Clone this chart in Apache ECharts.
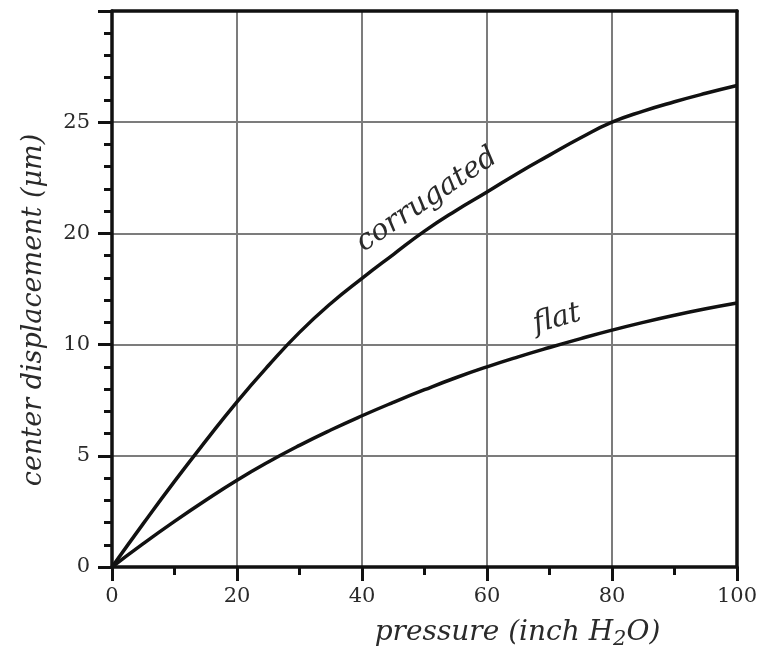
<!DOCTYPE html>
<html>
<head>
<meta charset="utf-8">
<script src="https://cdn.jsdelivr.net/npm/echarts@6/dist/echarts.min.js"></script>
<style>
  html, body { margin: 0; padding: 0; background: #fff; }
  #chart { width: 759px; height: 646px; }
</style>
</head>
<body>
<div id="chart"></div>
<script>
// pressure (inch H2O)
const pressure = [0, 5, 10, 15, 20, 25, 30, 35, 40, 45, 50, 55, 60, 65, 70, 75, 80, 85, 90, 95, 100];
// center displacement, in grid units (one gridline = 5)
const corrugated = [0, 1.95, 3.85, 5.67, 7.43, 9.05, 10.55, 11.85, 12.98, 14.05, 15.1, 16.02, 16.86, 17.72, 18.52, 19.3, 20.0, 20.5, 20.92, 21.3, 21.65];
const flat = [0, 1.05, 2.05, 3.0, 3.9, 4.72, 5.47, 6.16, 6.8, 7.4, 7.97, 8.51, 9.0, 9.45, 9.87, 10.27, 10.65, 11.0, 11.32, 11.61, 11.87];
// tick labels as printed on the original figure
const yTickValues = [0, 5, 10, 15, 20, 25];
const yTickLabels = ['0', '5', '10', '20', '25', ''];
const xTickLabels = ['0', '20', '40', '60', '80', '100'];
// where the curve names sit (data coords) and their tilt
const curveLabels = [
  { text: 'corrugated', at: [50.4, 16.5], rot: 34 },
  { text: 'flat', at: [71.2, 11.15], rot: 15 }
];

const SERIF = '"DejaVu Serif", "Liberation Serif", serif';
const INK = '#111', TXT = '#2a2a2a', GRIDC = '#7c7c7c';

const chart = echarts.init(document.getElementById('chart'));

const lineOf = arr => pressure.map((p, i) => [p, arr[i]]);
// top / right edges of the box
const frameAxis = { show: true, axisLine: { show: true, onZero: false, lineStyle: { color: INK, width: 3.5 } },
  axisTick: { show: false }, axisLabel: { show: false }, splitLine: { show: false } };

chart.setOption({
  backgroundColor: '#fff',
  animation: false,
  grid: { left: 112, right: 22, top: 11, bottom: 79, containLabel: false, outerBoundsMode: 'none' },
  xAxis: [{
    type: 'value', min: 0, max: 100, interval: 20,
    name: 'pressure (inch H{sub|2}O)', nameLocation: 'middle', nameGap: 49,
    nameTextStyle: { fontFamily: SERIF, fontStyle: 'italic', fontSize: 28, color: TXT, padding: [0, 0, 0, 186],
      rich: { sub: { fontFamily: SERIF, fontStyle: 'italic', fontSize: 21, color: TXT, padding: [13, 0, 0, 0] } } },
    axisLine: { lineStyle: { color: INK, width: 3.5 } },
    axisTick: { show: true, inside: false, length: 14, lineStyle: { color: INK, width: 3 } },
    minorTick: { show: true, splitNumber: 2, length: 8, lineStyle: { color: INK, width: 3 } },
    axisLabel: { fontFamily: SERIF, fontSize: 21, color: TXT, margin: 19,
      formatter: v => xTickLabels[Math.round(v / 20)] },
    splitLine: { show: true, lineStyle: { color: GRIDC, width: 2 } }
  }, Object.assign({ type: 'value', position: 'top', min: 0, max: 100 }, frameAxis)],
  yAxis: [{
    type: 'value', min: 0, max: 25, interval: 5,
    name: 'center displacement (\u03bcm)', nameLocation: 'middle', nameGap: 65, nameRotate: 90,
    nameTextStyle: { fontFamily: SERIF, fontStyle: 'italic', fontSize: 27, color: TXT, padding: [0, 42, 0, 0] },
    axisLine: { lineStyle: { color: INK, width: 3.5 } },
    axisTick: { show: true, inside: false, length: 14, lineStyle: { color: INK, width: 3 } },
    minorTick: { show: true, splitNumber: 5, length: 8, lineStyle: { color: INK, width: 3 } },
    axisLabel: { fontFamily: SERIF, fontSize: 21, color: TXT, margin: 22,
      formatter: v => yTickLabels[yTickValues.indexOf(Math.round(v))] },
    splitLine: { show: true, lineStyle: { color: GRIDC, width: 2 } }
  }, Object.assign({ type: 'value', position: 'right', min: 0, max: 25 }, frameAxis)],
  series: [
    { name: 'corrugated', type: 'line', data: lineOf(corrugated), smooth: 0.5, symbol: 'none',
      lineStyle: { color: INK, width: 3.5 }, z: 5 },
    { name: 'flat', type: 'line', data: lineOf(flat), smooth: 0.5, symbol: 'none',
      lineStyle: { color: INK, width: 3.5 }, z: 5 }
  ]
});

// curve names, placed through the axes
chart.setOption({
  graphic: curveLabels.map(l => {
    const [px, py] = chart.convertToPixel({ xAxisIndex: 0, yAxisIndex: 0 }, l.at);
    return {
      type: 'text', x: px, y: py, rotation: l.rot * Math.PI / 180, z: 10,
      style: { text: l.text, fontFamily: SERIF, fontStyle: 'italic', fontSize: 29, fill: TXT,
        align: 'center', verticalAlign: 'middle' }
    };
  })
});
</script>
</body>
</html>
